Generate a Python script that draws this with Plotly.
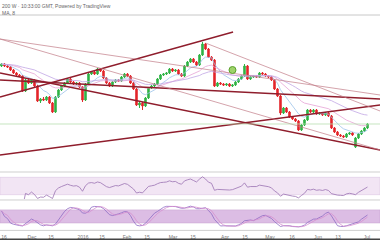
import plotly.graph_objects as go
import pandas as pd

opens = [105,107,105,104,101,98,96,95,80,91, 88,91,85,70,72,71,74,68,59,74,
         81,85,88,92,89,87,88,84,71,87, 97,99,97,102,100,93,88,85,89,91,
         90,94,97,95,88,82,66,68,65,73, 83,85,87,92,96,97,98,102,100,101,
         97,95,105,109,112,109,106,116,127,122, 114,111,85,88,87,86,87,85,86,89,
         92,95,105,92,94,95,94,98,97,95, 94,91,82,75,58,63,59,54,52,50,
         41,46,51,61,59,61,57,58,56,58, 55,43,39,36,35,34,37,38,24,33,
         37,40,43]
closes = [107,105,104,101,98,96,95,80,91,88, 91,85,70,72,71,74,68,59,74,81,
          85,88,92,89,87,88,84,71,87,97, 99,97,102,100,93,88,85,89,91,90,
          94,97,95,88,82,66,68,65,73,83, 85,87,92,96,97,98,102,100,101,97,
          95,105,109,112,109,106,116,127,122,114, 111,85,88,87,86,87,85,86,89,92,
          95,105,92,94,95,94,98,97,95,94, 91,82,75,58,63,59,54,52,50,41,
          46,51,61,59,61,57,58,56,58,55, 43,39,36,35,34,37,38,36,33,37,
          40,43,47]
highs = [108,108,106,105,102,99,97,96,92,92, 92,92,86,73,74,75,75,69,75,82,
         86,89,93,93,90,89,89,85,88,98, 100,100,103,103,101,94,89,90,92,92,
         95,98,98,96,89,83,70,69,74,84, 86,88,93,97,98,99,103,103,102,102,
         98,106,110,113,113,110,117,129,128,123, 115,112,89,89,88,88,88,87,90,93,
         96,107,106,95,96,96,99,99,98,96, 95,92,83,76,64,64,60,55,53,51,
         47,52,62,62,62,62,59,59,59,59, 56,44,40,37,36,38,39,39,34,38,
         41,44,48]
lows = [104,104,103,100,97,95,94,79,79,87, 87,84,69,68,70,70,67,58,58,73,
        80,84,87,88,86,86,83,69,70,86, 96,96,96,99,92,87,84,84,88,89,
        89,93,94,87,81,65,63,61,64,72, 82,84,86,91,95,96,97,99,99,96,
        94,94,104,108,108,105,105,115,121,113, 110,84,84,86,85,85,84,84,85,88,
        91,94,91,91,93,93,93,96,94,93, 90,81,74,56,57,58,53,51,49,40,
        40,45,50,58,58,56,56,55,55,54, 42,38,35,34,33,33,36,35,23,32,
        36,39,42]

tick_pos = [0.83, 10.17, 16.5, 27.17, 33.5, 41.83, 48.5, 57.17, 63.83, 74.5,
            81.17, 89.5, 96.83, 105.5, 112.17, 121.83]
tick_text = ["16", "Dec", "15", "2016", "15", "Feb", "15", "Mar", "15", "Apr",
             "15", "May", "16", "Jun", "13", "Jul"]

# trendlines: (x0, y0, x1, y1) in bar index / price units
thick_lines = [(-0.5, 74, 77.2, 139), (-0.5, 98, 126.2, 21), (-0.5, 16, 126.2, 66), (-0.5, 91, 126.2, 72)]
thin_lines = [(-0.5, 132, 126.2, 76), (-0.5, 132, 126.2, 21), (68, 128, 126.2, 60)]
hline_level = 47
marker_x = [77]
marker_y = [101]

idx = list(range(len(closes)))
c = pd.Series(closes, dtype=float)
h = pd.Series(highs, dtype=float)
l = pd.Series(lows, dtype=float)

ema_fast = c.ewm(span=8, adjust=False).mean()
ema_mid = c.ewm(span=20, adjust=False).mean()
ema_slow = c.ewm(span=40, adjust=False).mean()

d = c.diff().fillna(0)
up = d.clip(lower=0).ewm(alpha=1/14, adjust=False).mean()
dn = (-d.clip(upper=0)).ewm(alpha=1/14, adjust=False).mean()
rsi = (100 - 100 / (1 + up / dn.replace(0, 1e-9))).fillna(50)

ll = l.rolling(14, min_periods=1).min()
hh = h.rolling(14, min_periods=1).max()
k = (100 * (c - ll) / (hh - ll).replace(0, 1)).rolling(3, min_periods=1).mean()
dline = k.rolling(3, min_periods=1).mean()

fig = go.Figure()
fig.add_trace(go.Candlestick(x=idx, open=opens, high=highs, low=lows, close=closes,
                             increasing=dict(line=dict(color="#2fb344", width=1), fillcolor="#2fb344"),
                             decreasing=dict(line=dict(color="#e3262b", width=1), fillcolor="#e3262b"),
                             whiskerwidth=0, xaxis="x", yaxis="y", showlegend=False))
for s, col in [(ema_fast, "#9cc3ea"), (ema_mid, "#e6a3d6"), (ema_slow, "#c2a6e4")]:
    fig.add_trace(go.Scatter(x=idx, y=s, mode="lines", line=dict(color=col, width=0.8),
                             xaxis="x", yaxis="y", showlegend=False, hoverinfo="skip"))
for (x0, y0, x1, y1) in thick_lines:
    fig.add_trace(go.Scatter(x=[x0, x1], y=[y0, y1], mode="lines", line=dict(color="#8f1d2c", width=1.4),
                             xaxis="x", yaxis="y", showlegend=False, hoverinfo="skip"))
for (x0, y0, x1, y1) in thin_lines:
    fig.add_trace(go.Scatter(x=[x0, x1], y=[y0, y1], mode="lines", line=dict(color="#c27b86", width=0.7),
                             xaxis="x", yaxis="y", showlegend=False, hoverinfo="skip"))
fig.add_trace(go.Scatter(x=[-0.5, 126.2], y=[hline_level, hline_level], mode="lines",
                         line=dict(color="#b9e0b0", width=0.8), xaxis="x", yaxis="y", showlegend=False))
fig.add_trace(go.Scatter(x=marker_x, y=marker_y, mode="markers",
                         marker=dict(size=7, color="#9ed36a", line=dict(color="#5aa02c", width=1)),
                         xaxis="x", yaxis="y", showlegend=False))

fig.add_trace(go.Scatter(x=idx, y=rsi, mode="lines", line=dict(color="#9a72b3", width=0.8),
                         xaxis="x2", yaxis="y2", showlegend=False))
fig.add_trace(go.Scatter(x=idx, y=k, mode="lines", line=dict(color="#8f6bc4", width=0.8),
                         xaxis="x3", yaxis="y3", showlegend=False))
fig.add_trace(go.Scatter(x=idx, y=dline, mode="lines", line=dict(color="#d68fcf", width=0.8),
                         xaxis="x3", yaxis="y3", showlegend=False))

xr = [-0.5, 126.17]
common_x = dict(range=xr, showgrid=False, zeroline=False, showline=False, fixedrange=True)
fig.update_layout(
    width=380, height=240, margin=dict(l=0, r=0, t=0, b=0),
    paper_bgcolor="white", plot_bgcolor="white",
    xaxis=dict(**common_x, domain=[0, 1], anchor="y", showticklabels=False, rangeslider=dict(visible=False)),
    yaxis=dict(domain=[0.2875, 0.9333], range=[0, 155], showticklabels=False, showgrid=False, zeroline=False),
    xaxis2=dict(**common_x, domain=[0, 1], anchor="y2", showticklabels=False),
    yaxis2=dict(domain=[0.1708, 0.2792], range=[20, 80], showticklabels=False, showgrid=False, zeroline=False),
    xaxis3=dict(**common_x, domain=[0, 1], anchor="y3", tickmode="array", tickvals=tick_pos, ticktext=tick_text,
                ticks="", tickfont=dict(size=5, color="#777", family="Arial"), ticklabelstandoff=4),
    yaxis3=dict(domain=[0.0458, 0.1625], range=[-8, 121], showticklabels=False, showgrid=False, zeroline=False),
    shapes=[
        dict(type="rect", xref="x2", yref="y2", x0=xr[0], x1=xr[1], y0=30, y1=70,
             fillcolor="#f2e5f4", line=dict(color="#dcc6e2", width=0.6), layer="below"),
        dict(type="rect", xref="x3", yref="y3", x0=xr[0], x1=xr[1], y0=20, y1=80,
             fillcolor="#dcbde4", line=dict(color="#c9a6d4", width=0.6), layer="below"),
        dict(type="line", xref="paper", yref="paper", x0=0, x1=1, y0=0.9375, y1=0.9375, line=dict(color="#c8c8c8", width=1)),
        dict(type="line", xref="paper", yref="paper", x0=0, x1=1, y0=0.2833, y1=0.2833, line=dict(color="#cfcfcf", width=1)),
        dict(type="line", xref="paper", yref="paper", x0=0, x1=1, y0=0.1667, y1=0.1667, line=dict(color="#cfcfcf", width=1)),
        dict(type="line", xref="paper", yref="paper", x0=0, x1=1, y0=0.04, y1=0.04, line=dict(color="#cfcfcf", width=1)),
        dict(type="line", xref="paper", yref="paper", x0=0, x1=1, y0=0.003, y1=0.003, line=dict(color="#444", width=1.5)),
    ],
    annotations=[
        dict(text="200 W · 10:33:00 GMT, Powered by TradingView", x=0, y=0.995, xref="paper", yref="paper",
             xanchor="left", yanchor="top", showarrow=False, font=dict(size=5, color="#666", family="Arial")),
        dict(text="MA, 8", x=0, y=0.968, xref="paper", yref="paper",
             xanchor="left", yanchor="top", showarrow=False, font=dict(size=5, color="#666", family="Arial")),
    ],
)
fig.write_html("out.html")
